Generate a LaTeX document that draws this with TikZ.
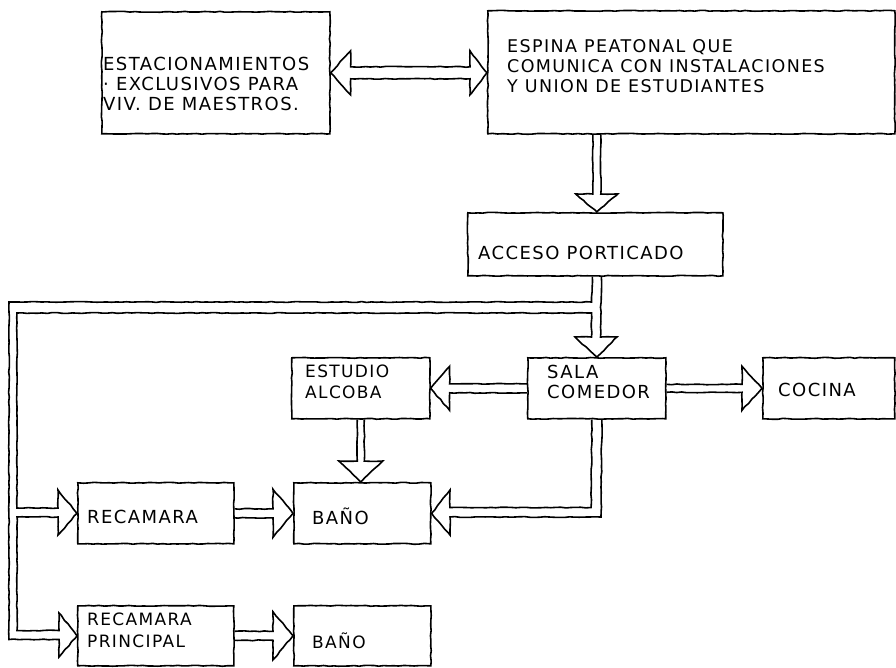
\documentclass[tikz,border=0pt]{standalone}
\usepackage{fontspec}
\newfontfamily\lettering{DejaVu Sans}[LetterSpace=8]
\usetikzlibrary{calc,decorations.pathmorphing}
\pgfmathsetseed{11}
\tikzset{
  sketch/.style={decorate, decoration={random steps, segment length=5pt, amplitude=0.45pt}},
  box/.style={draw, line width=1.6pt, rectangle, inner sep=0pt, anchor=north west, sketch},
  conn/.style={draw, line width=1.6pt, line join=miter, sketch},
  lbl/.style={anchor=west, inner sep=0pt, align=left, font=\lettering\fontsize{18}{19}\selectfont},
}
% horizontal hollow arrow: start, tip, half shaft, half head, signed head length
\newcommand\harr[5]{\draw[conn] let \p1=(#1), \p2=(#2) in
  (\x1,{\y2+#3}) -- ({\x2-(#5)},{\y2+#3}) -- ({\x2-(#5)},{\y2+#4}) -- (\x2,\y2)
  -- ({\x2-(#5)},{\y2-#4}) -- ({\x2-(#5)},{\y2-#3}) -- (\x1,{\y2-#3});}
% vertical (downward) hollow arrow
\newcommand\varr[5]{\draw[conn] let \p1=(#1), \p2=(#2) in
  ({\x2-#3},\y1) -- ({\x2-#3},{\y2+(#5)}) -- ({\x2-#4},{\y2+(#5)}) -- (\x2,\y2)
  -- ({\x2+#4},{\y2+(#5)}) -- ({\x2+#3},{\y2+(#5)}) -- ({\x2+#3},\y1);}
\begin{document}
\begin{tikzpicture}[x=1pt,y=-1pt]
\useasboundingbox[fill=white] (0,0) rectangle (896,667);

% boxes
\node[box, minimum width=228pt, minimum height=122pt] (estac) at (101,11) {};
\node[box, minimum width=407pt, minimum height=123pt] (espina) at (487,10) {};
\node[box, minimum width=255pt, minimum height=63pt] (acceso) at (467,212) {};
\node[box, minimum width=138pt, minimum height=61pt] (estudio) at (291,357) {};
\node[box, minimum width=138pt, minimum height=61pt] (sala) at (527,357) {};
\node[box, minimum width=132pt, minimum height=61pt] (cocina) at (762,357) {};
\node[box, minimum width=156pt, minimum height=61pt] (rec) at (77,482) {};
\node[box, minimum width=137pt, minimum height=61pt] (bano) at (293,482) {};
\node[box, minimum width=156pt, minimum height=60pt] (recp) at (77,605) {};
\node[box, minimum width=137pt, minimum height=60pt] (bano2) at (293,605) {};

% labels
\node[lbl, font=\lettering\fontsize{18}{20}\selectfont] (t1) at (103,84) {ESTACIONAMIENTOS\\· EXCLUSIVOS PARA\\VIV. DE MAESTROS.};
\node[lbl, font=\lettering\fontsize{17.5}{20}\selectfont] (t2) at (507,66) {ESPINA PEATONAL QUE\\COMUNICA CON INSTALACIONES\\Y UNION DE ESTUDIANTES};
\node[lbl] (t3) at (478,253) {ACCESO PORTICADO};
\node[lbl, font=\lettering\fontsize{17}{21}\selectfont] (t4) at (305,382) {ESTUDIO\\ALCOBA};
\node[lbl, font=\lettering\fontsize{18}{20}\selectfont] (t5) at (547,382) {SALA\\COMEDOR};
\node[lbl] (t6) at (778,390) {COCINA};
\node[lbl] (t7) at (87,517) {RECAMARA};
\node[lbl] (t8) at (312,516) {BAÑO};
\node[lbl, font=\lettering\fontsize{17}{22}\selectfont] (t9) at (87,630) {RECAMARA\\PRINCIPAL};
\node[lbl, font=\lettering\fontsize{17}{18}\selectfont] (t10) at (312,641) {BAÑO};

% double arrow estacionamientos <-> espina
\coordinate (d1) at (estac.east);
\coordinate (d2) at (espina.west |- d1);
\draw[conn] (d1) -- ++(20,-22) -- ++(0,16) -- ($(d2)+(-17,-6)$) -- ++(0,-16) -- (d2)
  -- ++(-17,22) -- ++(0,-16) -- ($(d1)+(20,6)$) -- ++(0,16) -- cycle;

% espina -> acceso
\varr{espina.south -| sala.north}{acceso.north -| sala.north}{4pt}{21pt}{18pt}

% acceso -> sala, with the loop to the recamaras
\coordinate (q0) at (acceso.south -| sala.north);
\draw[conn] ($(q0)+(-4.5,0)$) -- (591.5,302) -- (9,302) -- (9,639.5) -- (59,639.5)
  -- (59,657) -- (recp.west) -- (59,613) -- (59,630.5) -- (17,630.5) -- (17,517)
  -- (58,517) -- (58,535) -- (rec.west) -- (58,490) -- (58,508) -- (17,508)
  -- (17,313) -- (591.5,313) -- (591.5,337) -- (575,337) -- (sala.north)
  -- (617,337) -- (600.5,337) -- ($(q0)+(4.5,0)$);

% sala -> estudio, sala -> cocina
\harr{sala.west}{estudio.east}{4.5pt}{22pt}{-19pt}
\harr{sala.east}{cocina.west}{4pt}{22pt}{20pt}

% estudio -> bano
\varr{estudio.south}{bano.north -| estudio.south}{3.5pt}{22pt}{21pt}

% recamara -> bano, recamara principal -> bano
\harr{rec.east}{bano.west}{4.5pt}{24pt}{20pt}
\harr{recp.east}{bano2.west}{4.5pt}{24pt}{20pt}

% sala -> bano
\draw[conn] ($(sala.south)+(-5,0)$) -- (591,507.5) -- (450,507.5) -- (450,490)
  -- (bano.east) -- (450,535) -- (450,517) -- (601,517) -- ($(sala.south)+(5,0)$);
\end{tikzpicture}
\end{document}
